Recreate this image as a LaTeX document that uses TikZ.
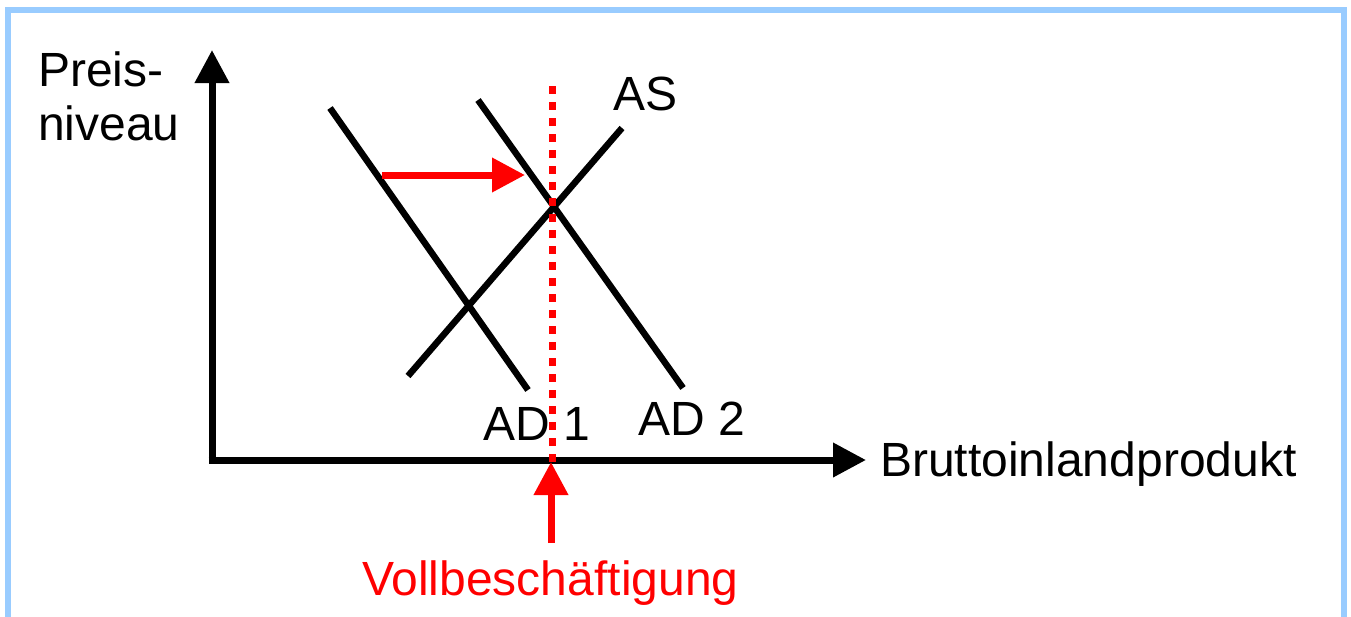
\documentclass[tikz,border=0pt]{standalone}
\usepackage{fontspec}
\setmainfont{Liberation Sans}
\usetikzlibrary{arrows.meta}
\definecolor{frameblue}{RGB}{153,204,255}
\definecolor{pured}{RGB}{255,0,0}
\begin{document}
\begin{tikzpicture}[x=1pt,y=-1pt,
  lbl/.style={inner sep=0pt,anchor=base west,font=\fontsize{48}{56}\selectfont},
  curve/.style={line width=6.5pt,black},
  axisline/.style={line width=7pt,black,-{Triangle[length=33pt,width=33pt]}},
  shiftarrow/.style={line width=7pt,pured,-{Triangle[length=33pt,width=33pt]}},
  fullemp/.style={line width=7pt,pured,dash pattern=on 8pt off 8pt}]
\useasboundingbox (0,0) rectangle (1351,616);
\clip (0,0) rectangle (1351,616);
\fill[white] (0,0) rectangle (1351,616);
\draw[frameblue,line width=6pt] (8,10) rectangle (1344,660);
% coordinates
\coordinate (origin) at (212,460);
\coordinate (ytip) at (212,50);
\coordinate (xtip) at (866,460);
\coordinate (ad1a) at (330,108);
\coordinate (ad1b) at (528,390);
\coordinate (ad2a) at (478,100);
\coordinate (ad2b) at (683,388);
\coordinate (asa) at (408,376);
\coordinate (asb) at (622,128);
\coordinate (vtop) at (552,86);
\coordinate (vbot) at (552,462);
\coordinate (sh1) at (382,175);
\coordinate (sh2) at (525,175);
\coordinate (up1) at (551,543);
\coordinate (up2) at (551,462);
% axes
\draw[axisline] (origin) -- (ytip);
\draw[axisline] ([xshift=-3.5pt]origin) -- (xtip);
% curves
\draw[curve] (ad1a) -- (ad1b);
\draw[curve] (ad2a) -- (ad2b);
\draw[curve] (asa) -- (asb);
% full employment line
\draw[fullemp] (vtop) -- (vbot);
% arrows
\draw[shiftarrow] (sh1) -- (sh2);
\draw[shiftarrow] (up1) -- (up2);
% labels
\node[lbl] (preis) at (38,86) {Preis-};
\node[lbl] (niveau) at (38,140) {niveau};
\node[lbl] (as) at (613,110) {AS};
\node[lbl] (ad1) at (483,440) {AD 1};
\node[lbl] (ad2) at (638,435) {AD 2};
\node[lbl] (bip) at (880,476) {Bruttoinlandprodukt};
\node[lbl,text=pured] (voll) at (362,595) {Vollbeschäftigung};
\end{tikzpicture}
\end{document}
